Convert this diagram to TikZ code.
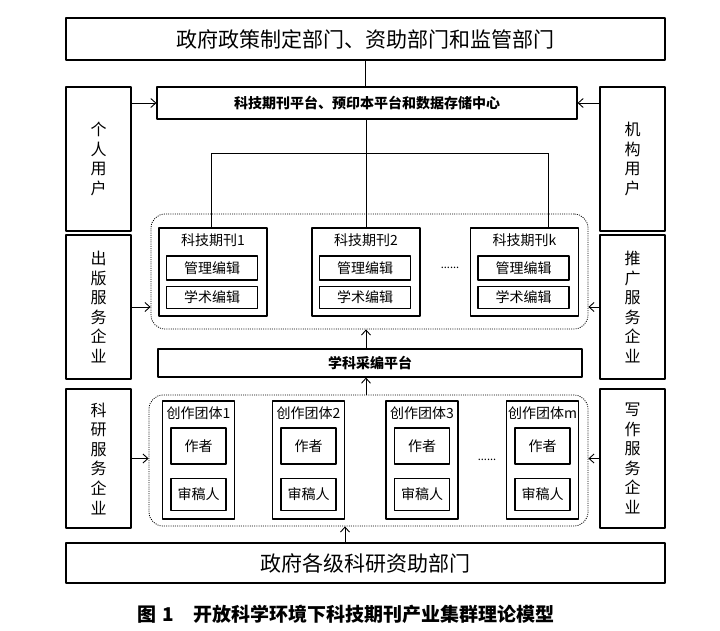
\documentclass[tikz,border=0pt]{standalone}
\usepackage{fontspec}
\setmainfont{Noto Sans CJK SC}
\usetikzlibrary{positioning,arrows.meta,calc}

\begin{document}
\begin{tikzpicture}[x=1pt, y=-1pt, line join=round, >={Straight Barb[length=5pt,width=9pt]}]
  % styles
  \tikzset{
    box/.style={draw, line width=1.1pt, inner sep=0pt, align=center},
    bigbox/.style={box, font=\fontsize{21}{24}\selectfont},
    sidebox/.style={box, minimum width=65pt, font=\fontsize{16}{19.6}\selectfont},
    platbox/.style={box, font=\fontsize{14}{16}\selectfont\bfseries},
    inbox/.style={box, font=\fontsize{14}{16}\selectfont},
    title/.style={inner sep=0pt, font=\fontsize{14}{16}\selectfont},
    cluster/.style={draw, dash pattern=on 1pt off 1.2pt, line width=0.8pt, rounded corners=14pt, inner sep=0pt},
    link/.style={line width=0.9pt},
    dots/.style={inner sep=0pt, font=\fontsize{11}{12}\selectfont}
  }

  % ----- frame -----
  \useasboundingbox (0,0) rectangle (720,630);

  % ----- top and bottom bars -----
  \node[bigbox, minimum width=599pt, minimum height=42pt] (gov) at (365.5,39) {政府政策制定部门、资助部门和监管部门};
  \node[bigbox, minimum width=599pt, minimum height=40pt] (fund) at (365.5,563) {政府各级科研资助部门};

  % ----- platforms -----
  \node[platbox, minimum width=420pt, minimum height=32pt] (plat) at (367,103) {科技期刊平台、预印本平台和数据存储中心};
  \node[platbox, minimum width=424pt, minimum height=28pt] (edit) at (370,363) {学科采编平台};

  % ----- side boxes -----
  \node[sidebox, minimum height=144pt] (userL) at (98.5,159)   {个\\人\\用\\户};
  \node[sidebox, minimum height=144pt] (userR) at (632.5,159)  {机\\构\\用\\户};
  \node[sidebox, minimum height=144pt] (pubL)  at (98.5,307)   {出\\版\\服\\务\\企\\业};
  \node[sidebox, minimum height=144pt] (proR)  at (632.5,307)  {推\\广\\服\\务\\企\\业};
  \node[sidebox, minimum height=139pt] (resL)  at (98.5,458.5) {科\\研\\服\\务\\企\\业};
  \node[sidebox, minimum height=139pt] (wriR)  at (632.5,458.5) {写\\作\\服\\务\\企\\业};

  % ----- journals -----
  \node[cluster, minimum width=437pt, minimum height=115pt] (jour) at (369.5,271.5) {};
  \foreach \name/\x/\lab in {j1/213/1, j2/366/2, jk/524.5/k}{
    \node[box, minimum width=108pt, minimum height=88pt] (\name) at (\x,272) {};
    \node[title] (\name-t) at (\x,240) {科技期刊\lab};
    \node[inbox, minimum width=91pt, minimum height=24pt] (\name-m) at (\x-1,268) {管理编辑};
    \node[inbox, minimum width=91pt, minimum height=22pt, below=5pt of \name-m] (\name-a) {学术编辑};
  }
  \node[dots] (jdots) at (450,268) {......};

  % ----- writing groups -----
  \node[cluster, minimum width=439pt, minimum height=131pt] (grp) at (368.5,460.5) {};
  \foreach \name/\x/\lab in {g1/198.5/1, g2/308.5/2, g3/422/3, gm/542.5/m}{
    \node[box, minimum width=72pt, minimum height=118pt] (\name) at (\x,460) {};
    \node[title] (\name-t) at (\x,413) {创作团体\lab};
    \node[inbox, minimum width=55pt, minimum height=36pt] (\name-a) at (\x,446) {作者};
    \node[inbox, minimum width=55pt, minimum height=32pt, below=13pt of \name-a] (\name-r) {审稿人};
  }
  \node[dots] (gdots) at (487,460) {......};

  % ----- connectors -----
  \coordinate (busL) at (211,153);
  \coordinate (busR) at (548,153);
  \coordinate (lift) at (345,543);
  \draw[link] (gov.south) -- (gov.south |- plat.north);
  \draw[link] (j2.north |- plat.south) -- (j2.north);
  \draw[link] (busL) -- (busR);
  \draw[link] (busL) -- (busL |- j1.north);
  \draw[link] (busR) -- (busR |- jk.north);

  \draw[link,->] (userL.east |- plat.west) -- (plat.west);
  \draw[link,->] (userR.west |- plat.east) -- (plat.east);
  \draw[link,->] (pubL.east) -- (pubL.east -| jour.west);
  \draw[link,->] (proR.west) -- (proR.west -| jour.east);
  \draw[link,->] (resL.east) -- (resL.east -| grp.west);
  \draw[link,->] (wriR.west) -- (wriR.west -| grp.east);
  \draw[link,->] (edit.north -| j2.north) -- (jour.south -| j2.north);
  \draw[link,->] (grp.north -| j2.north) -- (edit.south -| j2.north);
  \draw[link,->] (lift) -- (grp.south -| lift);

  % ----- caption -----
  \node[font=\fontsize{19}{21}\selectfont\bfseries] (cap) at (346,614) {图\hspace{0.3em}1\hspace{1em}开放科学环境下科技期刊产业集群理论模型};
\end{tikzpicture}
\end{document}
